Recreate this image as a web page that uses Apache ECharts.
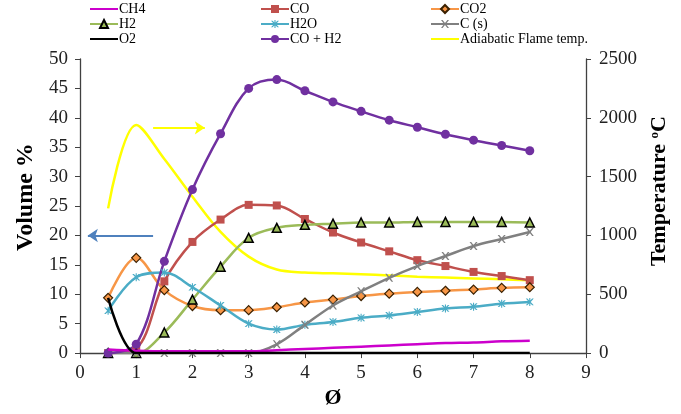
<!DOCTYPE html>
<html><head><meta charset="utf-8">
<script src="https://cdn.jsdelivr.net/npm/echarts@6/dist/echarts.min.js"></script>
<style>html,body{margin:0;padding:0;background:#fff;overflow:hidden}#c{width:681px;height:414px}</style>
</head><body><div id="c"></div>
<script>
const phi = [0.5,1,1.5,2,2.5,3,3.5,4,4.5,5,5.5,6,6.5,7,7.5,8];
const ch4 = [0.6,0.4,0.3,0.3,0.3,0.3,0.5,0.7,0.9,1.1,1.3,1.5,1.7,1.8,2.0,2.1];
const co  = [0,0.8,12.2,18.9,22.7,25.2,25.1,22.8,20.5,18.8,17.3,15.8,14.8,13.8,13.1,12.4];
const co2 = [9.4,16.2,10.7,8.0,7.3,7.3,7.8,8.6,9.1,9.7,10.1,10.4,10.6,10.8,11.1,11.2];
const h2  = [0,0,3.5,9.1,14.7,19.6,21.3,21.8,22.0,22.2,22.2,22.3,22.3,22.3,22.3,22.2];
const h2o = [7.2,12.9,13.7,11.2,8.1,5.0,4.0,4.8,5.3,6.0,6.4,7.0,7.6,7.9,8.4,8.7];
const cs  = [0,0,0,0,0,0,1.5,4.8,8.1,10.5,12.8,14.8,16.5,18.2,19.4,20.6];
const o2  = [9.4,0,0,0,0,0,0,0,0,0,0,0,0,0,0,0];
const coh2= [0,1.5,15.6,27.8,37.3,45.0,46.5,44.6,42.7,41.1,39.6,38.4,37.2,36.2,35.3,34.4];
const temp= [1230,1940,1650,1330,1030,820,710,685,678,670,660,650,642,635,627,619];
const leftTicks = {min:0,max:50,interval:5};
const rightTicks = {min:0,max:2500,interval:500};
const xTicks = {min:0,max:9,interval:1};
const arrows = [
  {from:[1.3,38.3], to:[2.22,38.3], color:'#FFFF00'},
  {from:[1.3,20.0], to:[0.14,20.0], color:'#4F81BD'}
];

const F = 'Liberation Serif';
const pairs = arr => phi.map((x,i)=>[x,arr[i]]);
const X = 'path://M0,0 L2,0 L5,3.6 L8,0 L10,0 L6.2,5 L10,10 L8,10 L5,6.4 L2,10 L0,10 L3.8,5 Z';
const STAR = 'path://M0,0 L2,0 L5,3.6 L8,0 L10,0 L6.2,5 L10,10 L8,10 L5,6.4 L2,10 L0,10 L3.8,5 Z M4.3,-1 L5.7,-1 L5.7,11 L4.3,11 Z';

function ser(name, data, color, opts) {
  return Object.assign({
    name, type:'line', data: pairs(data), smooth:0.35,
    symbol:'none', symbolSize:7,
    lineStyle:{color, width:2.5},
    itemStyle:{color},
    z:2
  }, opts||{});
}

const series = [
  ser('CH4', ch4, '#CC00CC', {z:3}),
  ser('CO', co, '#C0504D', {symbol:'rect', symbolSize:8}),
  ser('CO2', co2, '#F79646', {symbol:'diamond', symbolSize:9, itemStyle:{color:'#F79646', borderColor:'#3a2000', borderWidth:1.2}}),
  ser('H2', h2, '#9BBB59', {symbol:'triangle', symbolSize:9, itemStyle:{color:'#9BBB59', borderColor:'#000', borderWidth:1.5}}),
  ser('H2O', h2o, '#4BACC6', {symbol:STAR, symbolSize:8}),
  ser('C (s)', cs, '#808080', {symbol:X, symbolSize:8}),
  ser('O2', o2, '#000000', {z:3}),
  ser('CO + H2', coh2, '#7030A0', {symbol:'circle', symbolSize:9}),
  ser('Adiabatic Flame temp.', temp, '#FFFF00', {yAxisIndex:1, z:1}),
  {
    name:'arrows', type:'line', data:[[0,-10]], silent:true, symbol:'none',
    lineStyle:{opacity:0},
    markLine:{
      silent:true, symbol:['none','arrow'], symbolSize:10, animation:false,
      label:{show:false},
      data: arrows.map(a=>[
        {coord:a.from, lineStyle:{color:a.color, width:2, type:'solid'}, itemStyle:{color:a.color}},
        {coord:a.to, itemStyle:{color:a.color}}
      ])
    }
  }
];

const legendBase = {
  orient:'vertical', top:2, itemWidth:28, itemHeight:10, itemGap:1,
  textStyle:{fontFamily:F, fontSize:14, color:'#000', padding:[0,0,0,-4]},
  padding:0
};
const noSym = n => ({name:n, itemStyle:{opacity:0}});

const axisNameStyle = {fontFamily:F, fontSize:22, fontWeight:'bold', color:'#000'};
const tickLabel = {fontFamily:F, fontSize:19, color:'#222'};
const chart = echarts.init(document.getElementById('c'), null, {renderer:'canvas', width:681, height:414});
chart.setOption({
  animation:false,
  backgroundColor:'#fff',
  legend:[
    Object.assign({left:89, data:[noSym('CH4'),'H2',noSym('O2')]}, legendBase),
    Object.assign({left:260, data:['CO','H2O','CO + H2']}, legendBase),
    Object.assign({left:430, data:['CO2','C (s)',noSym('Adiabatic Flame temp.')]}, legendBase)
  ],
  grid:{left:80, right:95, top:59, bottom:48},
  xAxis:{
    type:'value', min:xTicks.min, max:xTicks.max, interval:xTicks.interval,
    name:'Ø', nameLocation:'middle', nameGap:24,
    nameTextStyle:axisNameStyle,
    axisLine:{lineStyle:{color:'#404040', width:1.3}},
    axisTick:{show:true, length:5, lineStyle:{color:'#404040'}},
    axisLabel:Object.assign({margin:10}, tickLabel),
    splitLine:{show:false}
  },
  yAxis:[
    {
      type:'value', min:leftTicks.min, max:leftTicks.max, interval:leftTicks.interval,
      name:'Volume %', nameLocation:'middle', nameGap:42, nameRotate:90,
      nameTextStyle:Object.assign({}, axisNameStyle, {fontSize:24, padding:[0,0,0,18]}),
      axisLine:{show:true, lineStyle:{color:'#404040', width:1.3}},
      axisTick:{show:true, length:5, lineStyle:{color:'#404040'}},
      axisLabel:Object.assign({margin:12}, tickLabel),
      splitLine:{show:false}
    },
    {
      type:'value', position:'right', min:rightTicks.min, max:rightTicks.max, interval:rightTicks.interval,
      name:'Temperature {sup|o}C', nameLocation:'middle', nameGap:61, nameRotate:90,
      nameTextStyle:Object.assign({}, axisNameStyle, {padding:[0,0,0,30],
        rich:{sup:{fontFamily:F, fontSize:13, fontWeight:'bold', color:'#000', verticalAlign:'top', lineHeight:22}}}),
      axisLine:{show:true, lineStyle:{color:'#404040', width:1.3}},
      axisTick:{show:true, length:5, lineStyle:{color:'#404040'}},
      axisLabel:Object.assign({margin:13, formatter: v => String(v)}, tickLabel),
      splitLine:{show:false}
    }
  ],
  series
});
</script></body></html>
